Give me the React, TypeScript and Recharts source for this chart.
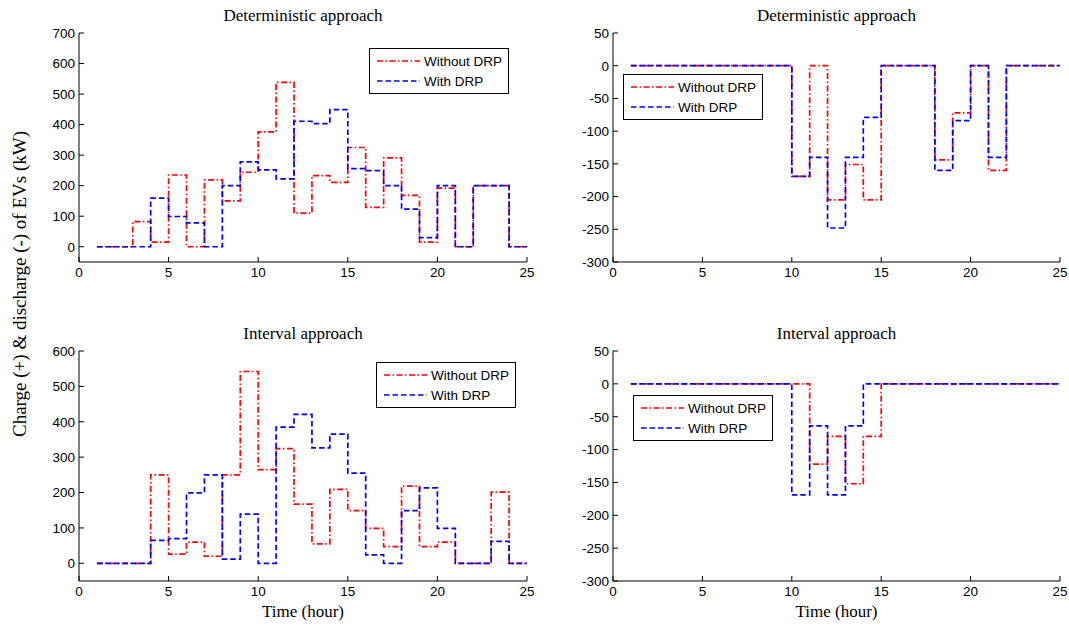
import React from "react";
import { LineChart, Line, XAxis, YAxis, Legend } from "recharts";

// Hourly EV charge (+) / discharge (-) in kW, one value per hour 1..24
const HOURS = [1, 2, 3, 4, 5, 6, 7, 8, 9, 10, 11, 12, 13, 14, 15, 16, 17, 18, 19, 20, 21, 22, 23, 24, 25];

const detChargeWithout = [0, 0, 82, 15, 235, 0, 219, 150, 244, 376, 538, 110, 233, 211, 325, 129, 291, 168, 15, 192, 0, 200, 200, 0];
const detChargeWith = [0, 0, 0, 159, 99, 78, 0, 200, 278, 252, 222, 411, 403, 449, 256, 249, 200, 123, 30, 200, 0, 200, 200, 0];

const detDischargeWithout = [0, 0, 0, 0, 0, 0, 0, 0, 0, -169, 0, -205, -151, -205, 0, 0, 0, -144, -72, 0, -160, 0, 0, 0];
const detDischargeWith = [0, 0, 0, 0, 0, 0, 0, 0, 0, -169, -140, -248, -140, -79, 0, 0, 0, -160, -84, 0, -140, 0, 0, 0];

const intChargeWithout = [0, 0, 0, 250, 26, 60, 20, 250, 542, 265, 324, 167, 55, 209, 149, 99, 47, 218, 47, 60, 0, 0, 201, 0];
const intChargeWith = [0, 0, 0, 65, 70, 199, 250, 12, 139, 0, 385, 421, 326, 365, 255, 24, 0, 149, 213, 99, 0, 0, 62, 0];

const intDischargeWithout = [0, 0, 0, 0, 0, 0, 0, 0, 0, 0, -122, -80, -152, -80, 0, 0, 0, 0, 0, 0, 0, 0, 0, 0];
const intDischargeWith = [0, 0, 0, 0, 0, 0, 0, 0, 0, -169, -64, -169, -64, 0, 0, 0, 0, 0, 0, 0, 0, 0, 0, 0];

const X_TICKS = [0, 5, 10, 15, 20, 25];
const DET_CHARGE_TICKS = [0, 100, 200, 300, 400, 500, 600, 700];
const INT_CHARGE_TICKS = [0, 100, 200, 300, 400, 500, 600];
const DISCHARGE_TICKS = [-300, -250, -200, -150, -100, -50, 0, 50];

const SERIES_NAMES = ["Without DRP", "With DRP"];

const RED = "#ff0000";
const BLUE = "#0000ff";
const RED_DASH = "6 2.5 1.5 2.5";
const BLUE_DASH = "5.5 3";
const LINE_W = 1.7;

const SERIF = "'Liberation Serif', 'Times New Roman', serif";
const SANS = "'Liberation Sans', Arial, sans-serif";

// stairs: the last hourly value is held until hour 25
function toStairs(without: number[], withDrp: number[]) {
  return HOURS.map((h) => {
    const i = Math.min(h - 1, without.length - 1);
    return { hour: h, without: without[i], withDrp: withDrp[i] };
  });
}

type Box = { x: number; y: number; w: number; h: number };

function LegendBox() {
  const rows = [
    { name: SERIES_NAMES[0], color: RED, dash: RED_DASH },
    { name: SERIES_NAMES[1], color: BLUE, dash: BLUE_DASH },
  ];
  return (
    <div
      style={{
        width: 138,
        height: 42,
        border: "1px solid #000",
        background: "#fff",
        fontFamily: SANS,
        fontSize: 13.5,
        color: "#000",
        paddingTop: 2,
        boxSizing: "content-box",
      }}
    >
      {rows.map((r) => (
        <div key={r.name} style={{ display: "flex", alignItems: "center", height: 20 }}>
          <svg width={54} height={20}>
            <line x1={7} x2={50} y1={10} y2={10} stroke={r.color} strokeWidth={LINE_W} strokeDasharray={r.dash} />
          </svg>
          <span>{r.name}</span>
        </div>
      ))}
    </div>
  );
}

function Panel({
  box,
  title,
  data,
  domain,
  ticks,
  legendAt,
  showTime,
}: {
  box: Box;
  title: string;
  data: { hour: number; without: number; withDrp: number }[];
  domain: [number, number];
  ticks: number[];
  legendAt: { x: number; y: number };
  showTime: boolean;
}) {
  const ML = 50;
  const MT = 30;
  const MR = 12;
  const MB = 30;
  const tickFont = { fontSize: 13.5, fill: "#000", fontFamily: SANS };
  return (
    <>
      <div
        style={{
          position: "absolute",
          left: box.x,
          top: box.y - 27,
          width: box.w,
          lineHeight: "20px",
          textAlign: "center",
          fontFamily: SERIF,
          fontSize: 17,
          color: "#000",
        }}
      >
        {title}
      </div>
      <div style={{ position: "absolute", left: box.x - ML, top: box.y - MT }}>
        <LineChart
          width={box.w + ML + MR}
          height={box.h + MT + MB}
          data={data}
          margin={{ top: MT, right: MR, bottom: 0, left: 0 }}
        >
          <XAxis
            dataKey="hour"
            type="number"
            domain={[0, 25]}
            ticks={X_TICKS}
            interval={0}
            height={MB}
            tickSize={-5}
            tickMargin={10}
            stroke="#000"
            tick={tickFont}
            allowDataOverflow
          />
          <XAxis
            xAxisId="top"
            orientation="top"
            dataKey="hour"
            type="number"
            domain={[0, 25]}
            ticks={X_TICKS}
            interval={0}
            height={0}
            tickSize={-5}
            tick={false}
            stroke="#000"
          />
          <YAxis
            type="number"
            domain={domain}
            ticks={ticks}
            interval={0}
            width={ML}
            tickSize={-5}
            tickMargin={9}
            stroke="#000"
            tick={tickFont}
            allowDataOverflow
          />
          <YAxis
            yAxisId="right"
            orientation="right"
            type="number"
            domain={domain}
            ticks={ticks}
            interval={0}
            width={0}
            tickSize={-5}
            tick={false}
            stroke="#000"
          />
          <Legend
            layout="vertical"
            align="center"
            verticalAlign="middle"
            wrapperStyle={{ left: legendAt.x - (box.x - ML), top: legendAt.y - (box.y - MT), width: 140 }}
            content={() => <LegendBox />}
          />
          <Line
            type="stepAfter"
            dataKey="without"
            name={SERIES_NAMES[0]}
            stroke={RED}
            strokeWidth={LINE_W}
            strokeDasharray={RED_DASH}
            dot={false}
            activeDot={false}
            isAnimationActive={false}
          />
          <Line
            type="stepAfter"
            dataKey="withDrp"
            name={SERIES_NAMES[1]}
            stroke={BLUE}
            strokeWidth={LINE_W}
            strokeDasharray={BLUE_DASH}
            dot={false}
            activeDot={false}
            isAnimationActive={false}
          />
        </LineChart>
      </div>
      {showTime && (
        <div
          style={{
            position: "absolute",
            left: box.x,
            top: box.y + box.h + 21,
            width: box.w,
            lineHeight: "20px",
            textAlign: "center",
            fontFamily: SERIF,
            fontSize: 17,
            color: "#000",
          }}
        >
          Time (hour)
        </div>
      )}
    </>
  );
}

export default function App() {
  return (
    <div
      style={{
        position: "absolute",
        left: 0,
        top: 0,
        width: 1069,
        height: 629,
        background: "#fff",
        overflow: "hidden",
      }}
    >
      <Panel
        box={{ x: 79, y: 33, w: 448, h: 229 }}
        title="Deterministic approach"
        data={toStairs(detChargeWithout, detChargeWith)}
        domain={[-50, 700]}
        ticks={DET_CHARGE_TICKS}
        legendAt={{ x: 369, y: 48 }}
        showTime={false}
      />
      <Panel
        box={{ x: 613, y: 33, w: 447, h: 229 }}
        title="Deterministic approach"
        data={toStairs(detDischargeWithout, detDischargeWith)}
        domain={[-300, 50]}
        ticks={DISCHARGE_TICKS}
        legendAt={{ x: 623, y: 74 }}
        showTime={false}
      />
      <Panel
        box={{ x: 79, y: 351, w: 448, h: 230 }}
        title="Interval approach"
        data={toStairs(intChargeWithout, intChargeWith)}
        domain={[-50, 600]}
        ticks={INT_CHARGE_TICKS}
        legendAt={{ x: 376, y: 362 }}
        showTime
      />
      <Panel
        box={{ x: 613, y: 351, w: 447, h: 230 }}
        title="Interval approach"
        data={toStairs(intDischargeWithout, intDischargeWith)}
        domain={[-300, 50]}
        ticks={DISCHARGE_TICKS}
        legendAt={{ x: 633, y: 395 }}
        showTime
      />
      <div
        style={{
          position: "absolute",
          left: 20,
          top: 284,
          width: 440,
          lineHeight: "22px",
          textAlign: "center",
          fontFamily: SERIF,
          fontSize: 19,
          color: "#000",
          transform: "translate(-50%, -50%) rotate(-90deg)",
          whiteSpace: "nowrap",
        }}
      >
        Charge (+) &amp; discharge (-) of EVs (kW)
      </div>
    </div>
  );
}
